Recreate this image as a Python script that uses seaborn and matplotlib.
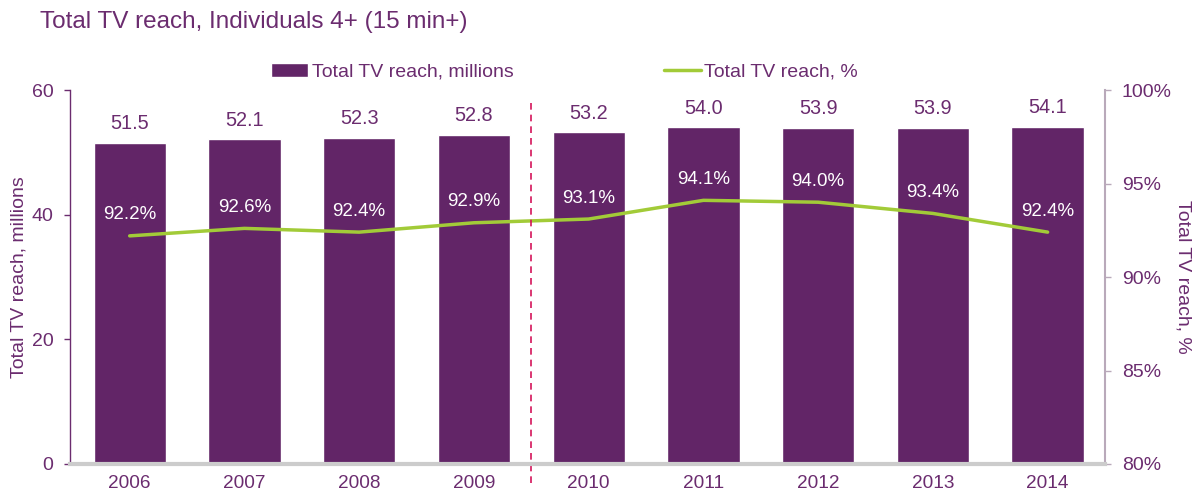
import numpy as np
import pandas as pd
import matplotlib
matplotlib.use("Agg")
import matplotlib.pyplot as plt
import seaborn as sns
from matplotlib.patches import Patch
from matplotlib.lines import Line2D

# Values
years = ["2006", "2007", "2008", "2009", "2010", "2011", "2012", "2013", "2014"]
reach_millions = [51.5, 52.1, 52.3, 52.8, 53.2, 54.0, 53.9, 53.9, 54.1]
reach_pct = [92.2, 92.6, 92.4, 92.9, 93.1, 94.1, 94.0, 93.4, 92.4]

df = pd.DataFrame({"Year": years, "Millions": reach_millions, "Pct": reach_pct})
df["pos"] = np.arange(len(df))

purple = "#622567"
text_purple = "#6b2c6f"
green = "#a2cb38"

sns.set_theme(style="white")
plt.rcParams["font.family"] = ["Liberation Sans", "DejaVu Sans"]

fig = plt.figure(figsize=(11.99, 4.97), dpi=100)
ax = fig.add_axes([0.0584, 0.0664, 0.8632, 0.7525])

sns.barplot(data=df, x="Year", y="Millions", color=purple, saturation=1,
            width=0.63, ax=ax)
ax.set_xlim(-0.52, 8.5)
ax.set_ylim(0, 60)
ax.set_yticks([0, 20, 40, 60])
ax.set_xlabel("")
ax.set_ylabel("Total TV reach, millions", color=text_purple, fontsize=14, labelpad=3)
ax.tick_params(axis="x", length=0, labelsize=13.7, labelcolor=text_purple, pad=8)
ax.tick_params(axis="y", length=4, width=1, color=text_purple, labelsize=14,
               labelcolor=text_purple, left=True, direction="out", pad=8)

for i, v in enumerate(df["Millions"]):
    ax.annotate(f"{v:.1f}", (i, v), xytext=(0, 7), textcoords="offset points",
                ha="center", va="bottom", fontsize=14.3, color=text_purple)

ax2 = ax.twinx()
sns.lineplot(data=df, x="pos", y="Pct", color=green, linewidth=2.5, ax=ax2)
ax2.set_ylim(80, 100)
ax2.set_yticks([80, 85, 90, 95, 100])
ax2.set_yticklabels([f"{t}%" for t in [80, 85, 90, 95, 100]])
ax2.set_xlim(-0.52, 8.5)
ax2.set_xlabel("")
ax2.set_ylabel("Total TV reach, %", color=text_purple, fontsize=14,
               rotation=270, va="bottom", labelpad=2)
ax2.tick_params(axis="y", length=4, width=1, color="#b9a9ba", labelsize=14,
                labelcolor=text_purple, right=True, direction="out", pad=8)

for i, v in enumerate(df["Pct"]):
    ax2.annotate(f"{v:.1f}%", (i, v), xytext=(0, 9), textcoords="offset points",
                 ha="center", va="bottom", fontsize=13.5, color="white")

# divider between 2009 and 2010
ax2.plot([3.5, 3.5], [-0.05, 0.97], transform=ax2.get_xaxis_transform(),
         color="#d4145a", linestyle=(0, (4, 3)), linewidth=1.2, clip_on=False)

for a in (ax, ax2):
    a.spines["top"].set_visible(False)
ax.spines["left"].set_color(text_purple)
ax.spines["left"].set_linewidth(1)
ax.spines["right"].set_visible(False)
ax2.spines["left"].set_visible(False)
ax2.spines["right"].set_color("#b9a9ba")
ax2.spines["right"].set_linewidth(1.5)
ax2.spines["bottom"].set_color("#cccccc")
ax2.spines["bottom"].set_linewidth(3)
ax.spines["bottom"].set_visible(False)

handles = [Patch(facecolor=purple, label="Total TV reach, millions"),
           Line2D([0], [0], color=green, linewidth=2.5, label="Total TV reach, %")]
fig.legend(handles=handles, loc="center", bbox_to_anchor=(0.471, 0.855), ncol=2,
           frameon=False, fontsize=14, labelcolor=text_purple, columnspacing=7.7,
           handlelength=1.9, handletextpad=0.2)

fig.text(0.033, 0.955, "Total TV reach, Individuals 4+ (15 min+)", fontsize=17.5,
         color=text_purple, ha="left", va="center")

fig.savefig("out.png", dpi=100)
